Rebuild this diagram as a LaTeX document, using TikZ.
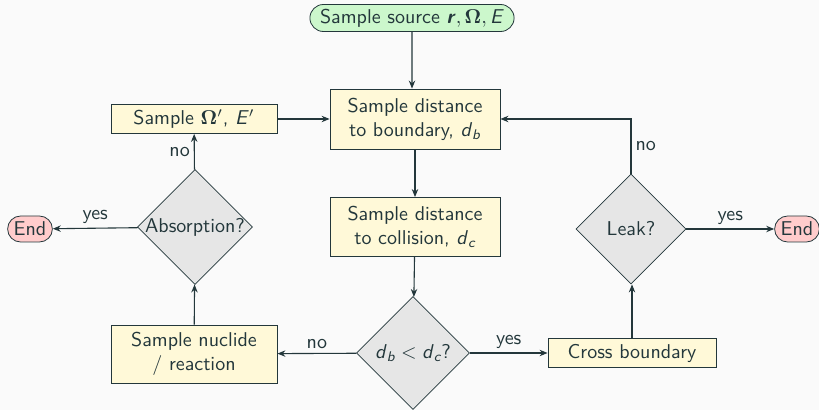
\documentclass[tikz,border=0pt]{standalone}
\usepackage{amsmath}
\usetikzlibrary{shapes.geometric,shapes.misc,arrows.meta}
\definecolor{fg}{HTML}{23373B}
\definecolor{bg}{HTML}{FAFAFA}
\definecolor{boxfill}{HTML}{FFF9D8}
\definecolor{srcfill}{HTML}{CCF7CC}
\definecolor{endfill}{HTML}{FFCCCC}
\definecolor{decfill}{HTML}{E6E6E6}
\begin{document}
\begin{tikzpicture}[x=0.5pt,y=-0.5pt,font=\sffamily,text=fg,
  box/.style={rectangle,draw=fg,fill=boxfill,align=center,inner sep=1pt},
  dec/.style={diamond,draw=fg,fill=decfill,inner sep=0pt,minimum width=#1,minimum height=#1},
  term/.style={rounded rectangle,draw=fg,fill=endfill,inner xsep=2pt,inner ysep=1pt,minimum height=13pt},
  conn/.style={draw=fg,line width=0.55pt,-{Stealth[length=4pt,width=3.2pt]}},
  lab/.style={text=fg,inner sep=2pt}]
\fill[bg] (0,0) rectangle (819,410);
\useasboundingbox (0,0) rectangle (819,410);
\node[rounded rectangle,draw=fg,fill=srcfill,minimum width=100pt,minimum height=13.5pt,inner ysep=1pt] (src) at (412,18)
  {Sample source \textbf{\textit{r}}$,\mathbf{\Omega},$\,\textit{E}};
\node[box,minimum width=85pt,minimum height=30pt] (bnd) at (415,119) {Sample distance\\to boundary, \textit{d}$_{\textit{b}}$};
\node[box,minimum width=83pt,minimum height=14.5pt] (omg) at (194,119) {Sample $\mathbf{\Omega'}$, \textit{E}$'$};
\node[box,minimum width=85pt,minimum height=29.5pt] (col) at (415,227) {Sample distance\\to collision, \textit{d}$_{\textit{c}}$};
\node[dec=56.5pt,label={center:\textit{d}$_{\textit{b}}<{}$\textit{d}$_{\textit{c}}$?}] (cmp) at (413,353) {};
\node[box,minimum width=84pt,minimum height=14.5pt] (crs) at (632,353) {Cross boundary};
\node[dec=55pt,label={center:Leak?}] (leak) at (631,229) {};
\node[term] (endR) at (797,229) {End};
\node[dec=57.5pt,label={center:Absorption?}] (abs) at (195,227) {};
\node[term] (endL) at (30,229) {End};
\node[box,minimum width=83pt,minimum height=29pt] (nuc) at (194,354) {Sample nuclide\\/ reaction};
\draw[conn] (src) -- (src |- bnd.north);
\draw[conn] (bnd) -- (col);
\draw[conn] (col) -- (cmp);
\draw[conn] (cmp) -- node[lab,above]{yes} (crs);
\draw[conn] (cmp) -- node[lab,above]{no} (nuc);
\draw[conn] (crs) -- (crs |- leak.south);
\draw[conn] (leak) -- node[lab,above]{yes} (endR);
\draw[conn] (leak) |- node[lab,pos=0.25,right]{no} (bnd);
\draw[conn] (nuc) -- (abs);
\draw[conn] (abs) -- node[lab,above]{yes} (endL);
\draw[conn] (abs) -- node[lab,left]{no} (omg);
\draw[conn] (omg) -- (bnd);
\end{tikzpicture}
\end{document}
